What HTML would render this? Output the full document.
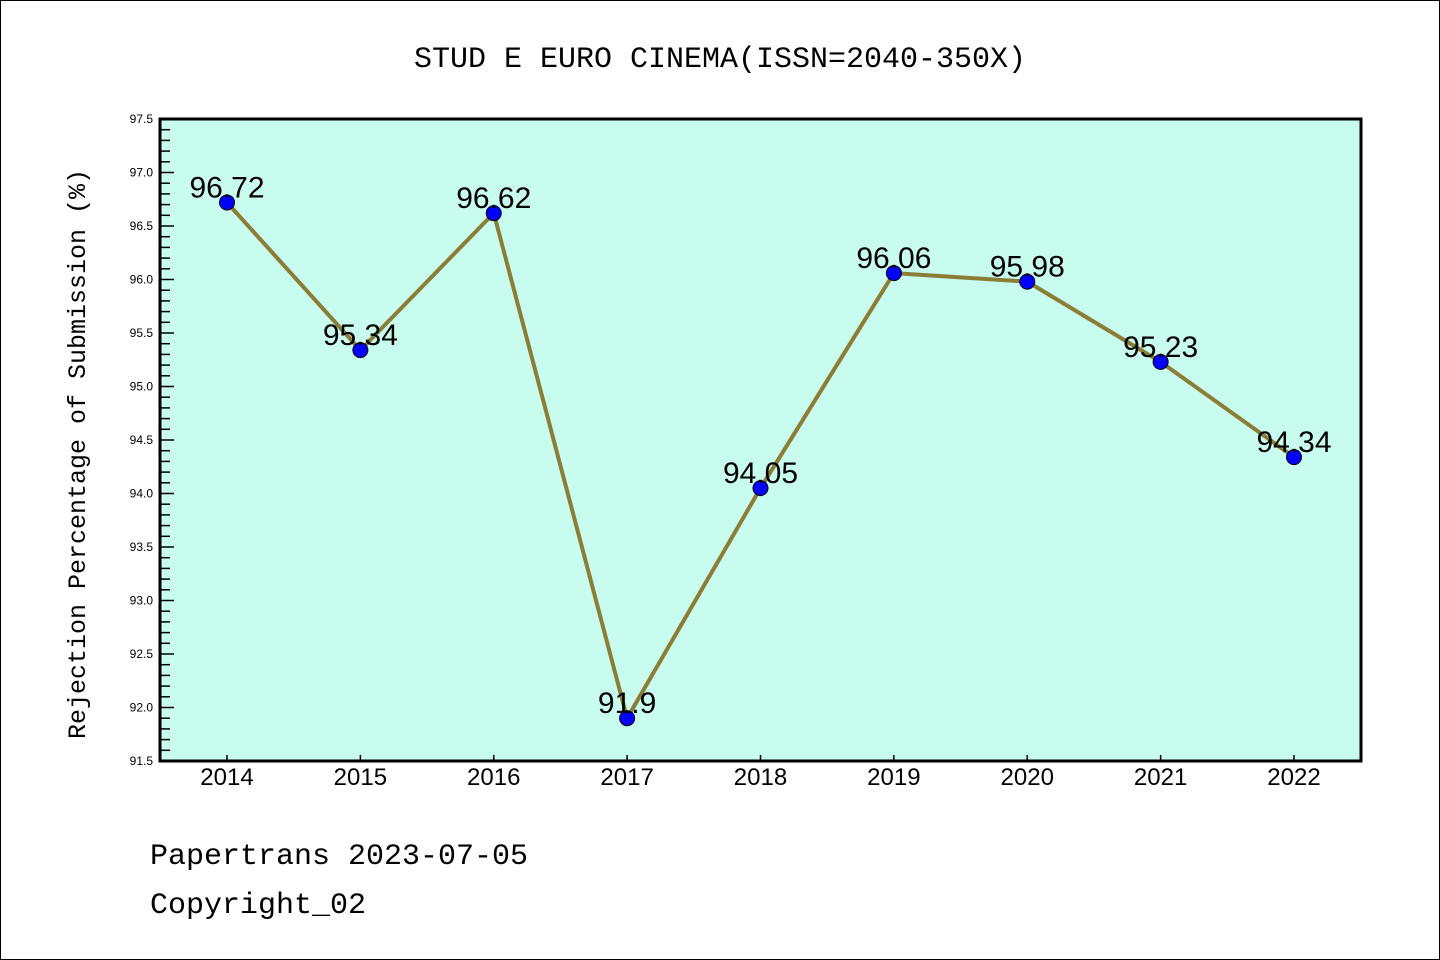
<!DOCTYPE html>
<html><head><meta charset="utf-8"><style>body{margin:0;background:#fff}svg{display:block}</style></head>
<body>
<svg id="chart" width="1440" height="960" xmlns="http://www.w3.org/2000/svg">
<rect x="0.5" y="0.5" width="1439" height="959" fill="#fff" stroke="#000"/>
<text x="720" y="67" text-anchor="middle" font-family="Liberation Mono, monospace" font-size="30">STUD E EURO CINEMA(ISSN=2040-350X)</text>
<rect x="160" y="119" width="1201" height="642" fill="#c7fcee"/>
<g id="yaxis"></g><g id="xaxis"></g><g id="series"></g>
<rect x="160" y="119" width="1201" height="642" fill="none" stroke="#000" stroke-width="3"/>
<text transform="translate(85,454) rotate(-90)" text-anchor="middle" font-family="Liberation Mono, monospace" font-size="25">Rejection Percentage of Submission (%)</text>
<text x="150" y="864" font-family="Liberation Mono, monospace" font-size="30">Papertrans 2023-07-05</text>
<text x="150" y="913" font-family="Liberation Mono, monospace" font-size="30">Copyright_02</text>
</svg>
<script>
const years = ['2014','2015','2016','2017','2018','2019','2020','2021','2022'];
const values = [96.72,95.34,96.62,91.9,94.05,96.06,95.98,95.23,94.34];
const labels = ['96.72','95.34','96.62','91.9','94.05','96.06','95.98','95.23','94.34'];
const yTicks = ['91.5','92.0','92.5','93.0','93.5','94.0','94.5','95.0','95.5','96.0','96.5','97.0','97.5'];
const NS='http://www.w3.org/2000/svg';
const yMin=91.5,yMax=97.5,plotTop=119,plotBot=761;
function yS(v){return plotBot-(v-yMin)/(yMax-yMin)*(plotBot-plotTop);}
function xS(i){return 227+i*133.375;}
function mk(t,a,p){const e=document.createElementNS(NS,t);for(const k in a)e.setAttribute(k,a[k]);p.appendChild(e);return e;}
const ya=document.getElementById('yaxis'),xa=document.getElementById('xaxis'),sg=document.getElementById('series');
for(let k=0;k<=60;k++){const v=yMin+k*0.1,y=yS(v);const major=k%5===0;
 const l=mk('line',{x1:160,x2:160+(major?14:10),y1:y,y2:y,stroke:'#000','stroke-width':1.5},ya);
 
 }
yTicks.forEach(t=>{const e=mk('text',{x:153,y:yS(+t)+4,'text-anchor':'end','font-family':'Liberation Sans, sans-serif','font-size':12},ya);e.textContent=t;
 
 });
years.forEach((yr,i)=>{const x=xS(i);
 const l=mk('line',{x1:x,x2:x,y1:761,y2:755,stroke:'#000','stroke-width':1.5},xa);
 
 
 const t=mk('text',{x:x,y:785,'text-anchor':'middle','font-family':'Liberation Sans, sans-serif','font-size':24},xa);t.textContent=yr;
 
 });
const pl=mk('polyline',{points:values.map((v,i)=>xS(i)+','+yS(v)).join(' '),fill:'none',stroke:'#8c7d36','stroke-width':4},sg);


values.forEach((v,i)=>{
 const c=mk('circle',{cx:xS(i),cy:yS(v),r:7.5,fill:'#0000ff',stroke:'#000','stroke-width':1},sg);
 
 
 const t=mk('text',{x:xS(i),y:yS(v)-5,'text-anchor':'middle','font-family':'Liberation Sans, sans-serif','font-size':30},sg);t.textContent=labels[i];
 
 });
</script>
</body></html>
